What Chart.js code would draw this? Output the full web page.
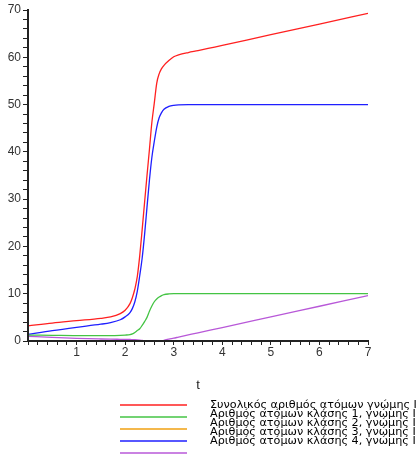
<!DOCTYPE html>
<html>
<head>
<meta charset="utf-8">
<script src="https://cdn.jsdelivr.net/npm/chart.js@4"></script>
<style>
  html, body { margin: 0; padding: 0; background: #fff; }
  #wrap { width: 417px; height: 464px; position: relative; }
</style>
</head>
<body>
<div id="wrap"><canvas id="plot"></canvas></div>
<script>
// time points (t)
const t = [0, 0.5, 1, 1.5, 1.7, 1.9, 2, 2.1, 2.15, 2.2, 2.25, 2.3, 2.35, 2.4, 2.45, 2.5, 2.55, 2.6, 2.65, 2.7, 2.75, 2.8, 2.9, 3, 3.1, 3.3, 3.5, 4, 5, 6, 7];

const total = [3.2, 3.8, 4.3, 4.8, 5.1, 5.8, 6.5, 7.9, 9.2, 11.0, 13.6, 18.0, 23.5, 29.3, 35.0, 40.5, 46.2, 50.3, 54.5, 56.5, 57.6, 58.3, 59.3, 60.1, 60.5, 61.0, 61.4, 62.5, 64.8, 67.0, 69.3];
const class1 = [1.25, 1.2, 1.15, 1.15, 1.15, 1.2, 1.25, 1.35, 1.5, 1.8, 2.2, 2.6, 3.3, 4.1, 5.0, 6.3, 7.4, 8.3, 8.9, 9.3, 9.6, 9.8, 9.95, 10, 10, 10, 10, 10, 10, 10, 10];
const class2 = [0, 0, 0, 0, 0, 0, 0, 0, 0, 0, 0, 0, 0, 0, 0, 0, 0, 0, 0, 0, 0, 0, 0, 0, 0, 0, 0, 0, 0, 0, 0];
const class3 = [1.4, 2.2, 2.9, 3.55, 3.9, 4.5, 5.1, 6.0, 6.9, 8.3, 10.5, 13.8, 17.5, 22.5, 28.3, 34.0, 38.8, 42.2, 45.2, 47.2, 48.3, 49.0, 49.6, 49.85, 49.95, 50, 50, 50, 50, 50, 50];
const class4 = [1.0, 0.75, 0.55, 0.42, 0.38, 0.36, 0.35, 0.32, 0.3, 0.28, 0.25, 0.2, 0.12, 0.05, 0, 0, 0, 0, 0, 0, 0.02, 0.15, 0.4, 0.6, 0.83, 1.28, 1.73, 2.85, 5.1, 7.35, 9.6];

const labels = [
  'Συνολικός αριθμός ατόμων γνώμης Ι',
  'Αριθμός ατόμων κλάσης 1, γνώμης Ι',
  'Αριθμός ατόμων κλάσης 2, γνώμης Ι',
  'Αριθμός ατόμων κλάσης 3, γνώμης Ι',
  'Αριθμός ατόμων κλάσης 4, γνώμης Ι'
];
const series = [total, class1, class2, class3, class4];
const colors = ['#ff2020', '#44c444', '#f0a010', '#1f1fff', '#b858d8'];

const pts = ys => ys.map((y, i) => ({x: t[i], y: y}));

const legendPlugin = {
  id: 'mapleLegend',
  afterDraw(chart) {
    const c = chart.ctx;
    const area = chart.chartArea;
    c.save();
    // axis title
    c.fillStyle = '#222';
    c.font = '13px "Liberation Sans", Arial, sans-serif';
    c.textAlign = 'center';
    c.textBaseline = 'middle';
    c.fillText('t', (area.left + area.right) / 2, area.bottom + 44);
    // legend: lines and texts have different spacing
    chart.data.datasets.forEach((ds, i) => {
      const ly = area.bottom + 64 + i * 12;
      c.strokeStyle = ds.borderColor;
      c.lineWidth = 1.5;
      c.beginPath();
      c.moveTo(120, ly);
      c.lineTo(187, ly);
      c.stroke();
      c.fillStyle = '#000';
      c.font = '11.2px "DejaVu Sans", sans-serif';
      c.textAlign = 'left';
      c.textBaseline = 'alphabetic';
      c.fillText(ds.label, 210, area.bottom + 67 + i * 9);
    });
    c.restore();
  }
};

const isInt = v => Math.abs(v - Math.round(v)) < 1e-6;

new Chart(document.getElementById('plot'), {
  type: 'line',
  data: {
    datasets: series.map((s, i) => ({
      label: labels[i],
      data: pts(s),
      borderColor: colors[i],
      backgroundColor: colors[i],
      borderWidth: 1.3,
      pointRadius: 0,
      fill: false,
      cubicInterpolationMode: 'monotone'
    }))
  },
  options: {
    responsive: true,
    maintainAspectRatio: false,
    animation: false,
    layout: { padding: { top: 10, right: 49, left: 0, bottom: 0 } },
    plugins: { legend: { display: false }, tooltip: { enabled: false } },
    scales: {
      x: {
        type: 'linear',
        min: 0,
        max: 7,
        border: { color: '#222', width: 2, z: 1 },
        grid: { drawOnChartArea: false, color: '#222', lineWidth: 1, tickLength: 4, z: 1 },
        ticks: {
          stepSize: 0.2,
          autoSkip: false,
          maxRotation: 0,
          padding: 0,
          color: '#333',
          font: { family: '"Liberation Sans", Arial, sans-serif', size: 12 },
          callback: v => (isInt(v) && Math.round(v) > 0) ? String(Math.round(v)) : ''
        },
        afterFit: s => { s.height = 123; }
      },
      y: {
        min: 0,
        max: 70,
        border: { color: '#222', width: 2, z: 1 },
        grid: { drawOnChartArea: false, color: '#222', lineWidth: 1, tickLength: 5, z: 1 },
        ticks: {
          stepSize: 2,
          autoSkip: false,
          padding: 2,
          color: '#333',
          font: { family: '"Liberation Sans", Arial, sans-serif', size: 12 },
          callback: v => (Math.round(v) % 10 === 0) ? String(Math.round(v)) : ''
        },
        afterFit: s => { s.width = 28; }
      }
    }
  },
  plugins: [legendPlugin]
});
</script>
</body>
</html>
